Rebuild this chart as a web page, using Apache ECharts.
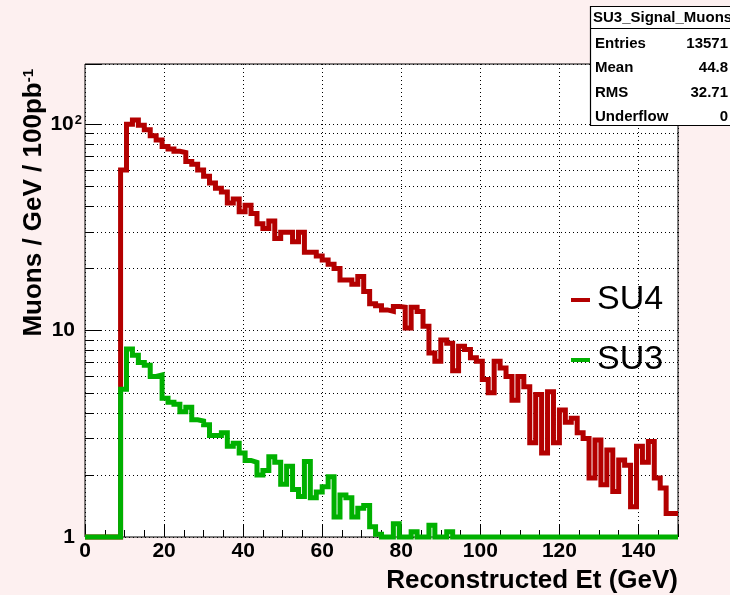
<!DOCTYPE html>
<html><head><meta charset="utf-8">
<script src="https://cdn.jsdelivr.net/npm/echarts@6/dist/echarts.min.js"></script>
<style>html,body{margin:0;padding:0;background:#fdf0f0}#c{width:730px;height:595px}</style>
</head><body><div id="c"></div>
<script>
// Histogram binning: 100 bins of 1.5 GeV from 0 to 150
const binStart = 0;
const binWidth = 1.5;

// SU4 bin contents (bins at/below the axis floor are shown as 1)
const su4 = [1,1,1,1,1,1,60,100,105,99,
  94,88,84,78,76,74,73,66,64,60,
  56,52,49,47,41.5,43.5,37.7,40.5,37,33,
  31.3,34,28,30,30,27,30,24,24,23,
  22,21,20,17.6,17.6,16.8,18.3,15.5,13.5,13.2,
  12.6,12.4,13.1,13,10.3,13,12.4,10.5,7.8,7.1,
  9.0,8.7,6.4,8.4,8.1,7.4,7.1,5.8,5.0,7.1,
  6.6,6.0,4.6,6.0,5.35,2.86,4.9,2.55,5.06,2.86,
  4.13,3.6,3.76,3.2,3.0,1.93,2.95,1.79,2.64,1.66,
  2.36,2.23,1.40,2.75,2.3,2.9,1.93,1.73,1.3,1.3];

// SU3 bin contents
const su3 = [1,1,1,1,1,1,5.2,8.15,7.6,7.0,
  6.8,6.0,6.1,4.7,4.5,4.4,4.05,4.25,3.7,3.65,
  3.5,3.1,3.1,3.2,2.75,2.85,2.55,2.35,2.3,2.0,
  2.1,2.45,2.3,1.8,2.2,1.7,1.57,2.32,1.55,1.65,
  1.75,1.96,1.25,1.6,1.55,1.25,1.38,1.42,1.12,1.03,
  1,1,1.16,1,1,1.06,1,1,1.14,1,
  1,1.06,1,1,1,1,1,1,1,1,
  1,1,1,1,1,1,1,1,1,1,
  1,1,1,1,1,1,1,1,1,1,
  1,1,1,1,1,1,1,1,1,1];

const xMajorTicks = [0,20,40,60,80,100,120,140];
const xMinorTicks = [5,10,15,25,30,35,45,50,55,65,70,75,85,90,95,105,110,115,125,130,135,145];
const yMajorTicks = [1,10,100];
const yMinorTicks = [2,3,4,5,6,7,8,9,20,30,40,50,60,70,80,90];

const seriesNames = ['SU4','SU3'];
const xTitle = 'Reconstructed Et (GeV)';
const yTitle = 'Muons / GeV / 100pb';
const yTitleSup = '-1';

const statsTitle = 'SU3_Signal_Muons';
const statsLabels = ['Entries','Mean','RMS','Underflow'];
const statsValues = ['13571','44.8','32.71','0'];

const RED = '#b30000', GREEN = '#00b000';
const FONT = 'Liberation Sans, Arial, sans-serif';

function steps(vals){
  const pts = vals.map((v,i)=>[binStart + i*binWidth, v]);
  pts.push([binStart + vals.length*binWidth, vals[vals.length-1]]);
  return pts;
}

const chart = echarts.init(document.getElementById('c'), null, {renderer:'canvas'});
const gridBox = {left:85, top:64, right:52, bottom:58};
const dotted = {type:[1,3], color:'#000', width:1};

const Z = 100;
const statsChildren = [
  {type:'rect', z:Z, shape:{x:590.5, y:6.5, width:150, height:119}, style:{fill:'#fff', stroke:'#000', lineWidth:1.2}},
  {type:'line', z:Z+1, shape:{x1:590.5, y1:28.5, x2:740, y2:28.5}, style:{stroke:'#000', lineWidth:1.2}},
  {type:'text', z:Z+1, x:593, y:17.5, style:{text:statsTitle, font:'bold 15px '+FONT, fill:'#000', align:'left', verticalAlign:'middle'}}
];
statsLabels.forEach((l,i)=>{
  statsChildren.push({type:'text', z:Z+1, x:595, y:44+i*24.3, style:{text:l, font:'bold 15px '+FONT, fill:'#000', align:'left', verticalAlign:'middle'}});
  statsChildren.push({type:'text', z:Z+1, x:728, y:44+i*24.3, style:{text:statsValues[i], font:'bold 15px '+FONT, fill:'#000', align:'right', verticalAlign:'middle'}});
});

const option = {
  backgroundColor:'#fdf0f0',
  animation:false,
  grid:[
    Object.assign({show:true, backgroundColor:'#fff', borderColor:'#000', borderWidth:1}, gridBox),
    Object.assign({show:false}, gridBox)
  ],
  legend:{
    data:seriesNames, orient:'vertical', left:566, top:275,
    itemWidth:19, itemHeight:4, icon:'rect', itemGap:20,
    textStyle:{fontSize:34, fontFamily:FONT, color:'#000', lineHeight:36, padding:[4,0,0,2]}
  },
  xAxis:[{
    type:'value', gridIndex:0, min:0, max:150, interval:20,
    axisLine:{show:false},
    axisTick:{inside:true, length:13, lineStyle:{color:'#000'}},
    axisLabel:{margin:4, color:'#000', fontSize:21, fontWeight:'bold', fontFamily:FONT,
      formatter:v=> xMajorTicks.indexOf(Math.round(v))>=0 ? String(Math.round(v)) : ''},
    splitLine:{show:true, lineStyle:dotted}
  },{
    type:'value', gridIndex:1, min:0, max:150, interval:5,
    axisLine:{show:false},
    axisTick:{inside:true, length:7, lineStyle:{color:'#000'}, customValues:xMinorTicks},
    axisLabel:{show:false}, splitLine:{show:false}
  }],
  yAxis:[{
    type:'log', logBase:10, gridIndex:0, min:1, max:196,
    axisLine:{show:false},
    axisTick:{inside:true, length:17, lineStyle:{color:'#000'}},
    axisLabel:{margin:3, color:'#000',
      formatter:v=>{const r=Math.round(v); if(r===1) return '{a|1}'; if(r===10) return '{a|10}'; if(r===100) return '{b|10}{s|2}'; return '';},
      rich:{
        a:{fontSize:21, fontWeight:'bold', fontFamily:FONT, color:'#000', padding:[0,7,0,0]},
        b:{fontSize:21, fontWeight:'bold', fontFamily:FONT, color:'#000'},
        s:{fontSize:13, fontWeight:'bold', fontFamily:FONT, color:'#000', verticalAlign:'top', padding:[0,0,0,1]}
      }},
    splitLine:{show:true, lineStyle:dotted}
  },{
    type:'log', logBase:10, gridIndex:1, min:1, max:196,
    axisLine:{show:false},
    axisTick:{inside:true, length:8, lineStyle:{color:'#000'}, customValues:yMinorTicks},
    axisLabel:{show:false}, splitLine:{show:false}
  }],
  series:[{
    name:seriesNames[0], type:'line', step:'end', data:steps(su4), xAxisIndex:0, yAxisIndex:0,
    showSymbol:false, symbol:'none', clip:false,
    lineStyle:{color:RED, width:5, join:'miter', cap:'butt'}, itemStyle:{color:RED},
    markLine:{silent:true, z:1, symbol:['none','none'], label:{show:false}, lineStyle:dotted, animation:false,
      data: yMinorTicks.map(v=>({yAxis:v}))}
  },{
    name:seriesNames[1], type:'line', step:'end', data:steps(su3), xAxisIndex:0, yAxisIndex:0,
    showSymbol:false, symbol:'none', clip:false,
    lineStyle:{color:GREEN, width:5, join:'miter', cap:'butt'}, itemStyle:{color:GREEN}
  }],
  graphic:[
    {type:'group', z:Z, children:statsChildren},
    {type:'text', z:Z, x:678, y:581, style:{text:xTitle, font:'bold 26px '+FONT, fill:'#000', align:'right', verticalAlign:'middle'}},
    {type:'text', z:Z, x:34, y:69, rotation:Math.PI/2,
      style:{text:yTitle+'{sup|'+yTitleSup+'}', font:'bold 26px '+FONT, fill:'#000', align:'right', verticalAlign:'middle',
        rich:{sup:{fontSize:15, fontWeight:'bold', fontFamily:FONT, verticalAlign:'top'}}}}
  ]
};
chart.setOption(option);
</script>
</body></html>
